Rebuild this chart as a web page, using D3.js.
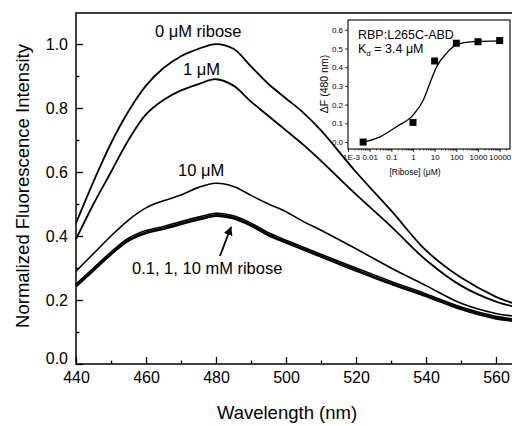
<!DOCTYPE html>
<html>
<head>
<meta charset="utf-8">
<script src="https://d3js.org/d3.v7.min.js"></script>
<style>
  body { margin: 0; background: #fff; }
  text { font-family: "Liberation Sans", Arial, sans-serif; fill: #000; }
</style>
</head>
<body>
<div id="chart"></div>
<script>
// emission spectra, normalized
const wavelength = [440, 445, 450, 455, 460, 465, 470, 475, 480, 485, 490, 495, 500, 505, 510, 520, 530, 540, 550, 560, 565];
const ribose0uM  = [0.44, 0.57, 0.69, 0.79, 0.87, 0.925, 0.962, 0.985, 1.0, 0.985, 0.93, 0.875, 0.83, 0.785, 0.73, 0.60, 0.48, 0.355, 0.27, 0.21, 0.19];
const ribose1uM  = [0.39, 0.50, 0.60, 0.70, 0.78, 0.825, 0.855, 0.875, 0.89, 0.87, 0.82, 0.775, 0.73, 0.685, 0.635, 0.53, 0.43, 0.325, 0.245, 0.195, 0.18];
const ribose10uM = [0.29, 0.345, 0.40, 0.45, 0.488, 0.51, 0.528, 0.552, 0.565, 0.555, 0.527, 0.50, 0.476, 0.445, 0.418, 0.36, 0.30, 0.245, 0.19, 0.158, 0.15];
const ribose01mM = [0.25, 0.30, 0.35, 0.393, 0.417, 0.43, 0.445, 0.459, 0.471, 0.463, 0.44, 0.41, 0.387, 0.365, 0.343, 0.30, 0.258, 0.219, 0.178, 0.149, 0.141];
const ribose1mM  = [0.245, 0.295, 0.345, 0.388, 0.412, 0.425, 0.44, 0.454, 0.466, 0.458, 0.435, 0.405, 0.382, 0.36, 0.338, 0.295, 0.253, 0.215, 0.174, 0.145, 0.137];
const ribose10mM = [0.241, 0.291, 0.341, 0.384, 0.408, 0.421, 0.436, 0.45, 0.462, 0.454, 0.431, 0.401, 0.378, 0.356, 0.334, 0.291, 0.249, 0.211, 0.17, 0.141, 0.134];
const xTicks = [440, 460, 480, 500, 520, 540, 560];
const yTicks = [0.0, 0.2, 0.4, 0.6, 0.8, 1.0];

// inset: binding curve
const insetConc = [0.005, 1, 10, 100, 1000, 10000];
const insetDF   = [0.0, 0.105, 0.433, 0.528, 0.536, 0.542];
const fitConc = [0.005, 0.03, 0.175, 1, 3, 6, 12.4, 35, 100, 600, 10000];
const fitDF   = [0.0, 0.028, 0.082, 0.144, 0.225, 0.314, 0.403, 0.474, 0.519, 0.536, 0.54];
const insetXTicks = [0.001, 0.01, 0.1, 1, 10, 100, 1000, 10000];
const insetXLabels = ["1E-3", "0.01", "0.1", "1", "10", "100", "1000", "10000"];
const insetYTicks = [0.0, 0.1, 0.2, 0.3, 0.4, 0.5, 0.6];

const W = 512, H = 426;
const svg = d3.select("#chart").append("svg").attr("width", W).attr("height", H);

const x = d3.scaleLinear().domain([440, 565]).range([76, 513.5]);
const y = d3.scaleLinear().domain([0, 1.097]).range([364, 13]);

// frame (right edge falls outside the picture)
svg.append("rect")
  .attr("x", x(440)).attr("y", y(1.097))
  .attr("width", x(565) - x(440)).attr("height", y(0) - y(1.097))
  .attr("fill", "none").attr("stroke", "#000").attr("stroke-width", 1.5);

// axes, ticks inward
const xAxis = svg.append("g").attr("transform", "translate(0," + y(0) + ")")
  .call(d3.axisBottom(x).tickValues(xTicks).tickSize(-7).tickPadding(12).tickFormat(d3.format("d")));
svg.append("g").attr("transform", "translate(0," + y(0) + ")")
  .call(d3.axisBottom(x).tickValues(d3.range(450, 560, 20)).tickSize(-3.5).tickFormat(""));
const yAxis = svg.append("g").attr("transform", "translate(" + x(440) + ",0)")
  .call(d3.axisLeft(y).tickValues(yTicks).tickSize(-7).tickPadding(8).tickFormat(d3.format(".1f")));
svg.append("g").attr("transform", "translate(" + x(440) + ",0)")
  .call(d3.axisLeft(y).tickValues([0.1, 0.3, 0.5, 0.7, 0.9]).tickSize(-3.5).tickFormat(""));
svg.selectAll(".domain").remove();
svg.selectAll(".tick line").attr("stroke", "#000").attr("stroke-width", 1.3);
xAxis.selectAll("text").attr("font-size", 16).attr("dy", "0.45em");
yAxis.selectAll("text").attr("font-size", 16);
yAxis.selectAll(".tick").filter(d => d === 0).select("text").attr("dy", "-0.05em");

// titles
svg.append("text").attr("x", 287).attr("y", 419).attr("text-anchor", "middle")
  .attr("font-size", 18.5).text("Wavelength (nm)");
svg.append("text").attr("transform", "translate(29,186) rotate(-90)").attr("text-anchor", "middle")
  .attr("font-size", 18.5).text("Normalized Fluorescence Intensity");

// spectra
const line = d3.line().x((d, i) => x(wavelength[i])).y(d => y(d)).curve(d3.curveCatmullRom);
const series = [
  { v: ribose0uM, w: 1.8 },
  { v: ribose1uM, w: 1.8 },
  { v: ribose10uM, w: 1.6 },
  { v: ribose01mM, w: 1.6 },
  { v: ribose1mM, w: 1.6 },
  { v: ribose10mM, w: 1.6 }
];
svg.append("g").selectAll("path").data(series).enter().append("path")
  .attr("d", d => line(d.v))
  .attr("fill", "none").attr("stroke", "#000").attr("stroke-width", d => d.w);

// annotations
svg.append("text").attr("x", 155).attr("y", 37).attr("font-size", 16.5).text("0 \u03bcM ribose");
svg.append("text").attr("x", 183).attr("y", 75).attr("font-size", 16.5).text("1 \u03bcM");
svg.append("text").attr("x", 178).attr("y", 176).attr("font-size", 16.5).text("10 \u03bcM");
svg.append("text").attr("x", 132).attr("y", 274).attr("font-size", 16.5).text("0.1, 1, 10 mM ribose");

svg.append("defs").append("marker").attr("id", "ah")
  .attr("viewBox", "0 0 10 10").attr("refX", 9).attr("refY", 5)
  .attr("markerWidth", 5).attr("markerHeight", 5).attr("orient", "auto")
  .append("path").attr("d", "M0,0L10,5L0,10Z").attr("fill", "#000");
svg.append("line").attr("x1", 220).attr("y1", 256).attr("x2", 231).attr("y2", 227)
  .attr("stroke", "#000").attr("stroke-width", 1.8).attr("marker-end", "url(#ah)");

// ---- inset ----
const ix = d3.scaleLog().domain([0.001, 30000]).range([348, 510]);
const iy = d3.scaleLinear().domain([-0.037, 0.652]).range([149, 20]);
const inset = svg.append("g");
inset.append("rect").attr("x", 348).attr("y", 20).attr("width", 162).attr("height", 129)
  .attr("fill", "#fff").attr("stroke", "#000").attr("stroke-width", 1.1);

const ixAxis = inset.append("g").attr("transform", "translate(0,149)")
  .call(d3.axisBottom(ix).tickValues(insetXTicks).tickSize(3).tickPadding(2)
    .tickFormat((d, i) => insetXLabels[i]));
const minors = [];
insetXTicks.forEach(t => { for (let k = 2; k < 10; k++) if (t * k < 30000) minors.push(t * k); });
inset.append("g").attr("transform", "translate(0,149)")
  .call(d3.axisBottom(ix).tickValues(minors).tickSize(1.5).tickFormat(""));
const iyAxis = inset.append("g").attr("transform", "translate(348,0)")
  .call(d3.axisLeft(iy).tickValues(insetYTicks).tickSize(3).tickPadding(2).tickFormat(d3.format(".1f")));
inset.selectAll(".domain").remove();
inset.selectAll(".tick line").attr("stroke", "#000").attr("stroke-width", 0.8);
ixAxis.selectAll("text").attr("font-size", 8);
ixAxis.selectAll(".tick").filter(d => d === 0.001).select("text").attr("dx", 3);
iyAxis.selectAll("text").attr("font-size", 8);

inset.append("text").attr("x", 415).attr("y", 175).attr("text-anchor", "middle")
  .attr("font-size", 8.5).text("[Ribose] (\u03bcM)");
inset.append("text").attr("transform", "translate(328,84) rotate(-90)").attr("text-anchor", "middle")
  .attr("font-size", 10.5).text("\u0394F (480 nm)");

const fitLine = d3.line().x((d, i) => ix(fitConc[i])).y(d => iy(d)).curve(d3.curveMonotoneX);
inset.append("path").attr("d", fitLine(fitDF)).attr("fill", "none")
  .attr("stroke", "#000").attr("stroke-width", 1.3);
inset.selectAll("rect.pt").data(insetDF).enter().append("rect").attr("class", "pt")
  .attr("x", (d, i) => ix(insetConc[i]) - 3.5).attr("y", d => iy(d) - 3.5)
  .attr("width", 7).attr("height", 7).attr("fill", "#000");

inset.append("text").attr("x", 358).attr("y", 39).attr("font-size", 12.5).text("RBP:L265C-ABD");
const kd = inset.append("text").attr("x", 358).attr("y", 53).attr("font-size", 12.5);
kd.append("tspan").text("K");
kd.append("tspan").attr("font-size", 8).attr("dy", 3).text("d");
kd.append("tspan").attr("dy", -3).text(" = 3.4 \u03bcM");
</script>
</body>
</html>
